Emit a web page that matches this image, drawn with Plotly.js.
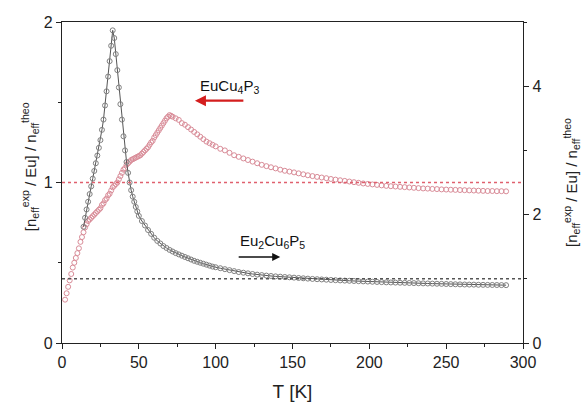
<!DOCTYPE html>
<html><head><meta charset="utf-8">
<script src="https://cdn.plot.ly/plotly-3.0.1.min.js"></script>
<style>html,body{margin:0;padding:0;background:#fff}#chart{width:584px;height:403px}</style>
</head><body><div id="chart"></div>
<script>
// EuCu4P3 (left axis)
const redT = [2,3,4,5,6,7,8,9,10,11,12,13,14,15,16,17,18,19,20,21,22,23,24,25,26,27,28,29,30,31,32,33,34,35,36,37,38,39,40,41,42,43,44,45,46,47,48,49,50,51,52,53,54,55,56,57,58,59,60,61,62,63,64,65,66,67,68,69,70,71,72,74,76,78,80,82,84,86,88,90,92,94,96,98,100,103,106,109,112,115,118,121,124,127,130,133,136,139,142,145,148,151,154,157,160,163,166,169,172,175,178,181,184,187,190,193,196,199,202,205,208,211,214,217,220,223,226,229,232,235,238,241,244,247,250,253,256,259,262,265,268,271,274,277,280,283,286,289];
const redY = [0.27,0.31,0.35,0.39,0.43,0.47,0.50,0.53,0.56,0.59,0.63,0.66,0.69,0.72,0.74,0.76,0.77,0.78,0.79,0.80,0.81,0.82,0.83,0.84,0.86,0.87,0.89,0.90,0.92,0.93,0.95,0.97,0.98,0.99,1.00,1.02,1.04,1.06,1.08,1.09,1.11,1.12,1.13,1.14,1.145,1.15,1.155,1.16,1.165,1.17,1.18,1.19,1.20,1.21,1.22,1.235,1.25,1.26,1.28,1.295,1.31,1.325,1.34,1.355,1.37,1.385,1.40,1.41,1.42,1.415,1.41,1.40,1.39,1.37,1.36,1.345,1.33,1.315,1.30,1.285,1.27,1.255,1.245,1.235,1.225,1.21,1.20,1.185,1.17,1.16,1.15,1.14,1.13,1.12,1.11,1.102,1.095,1.088,1.08,1.073,1.068,1.063,1.057,1.051,1.045,1.04,1.035,1.031,1.027,1.022,1.018,1.014,1.01,1.006,1.002,0.998,0.994,0.991,0.988,0.985,0.982,0.979,0.977,0.975,0.973,0.971,0.969,0.967,0.965,0.963,0.962,0.96,0.959,0.957,0.956,0.955,0.954,0.953,0.952,0.951,0.95,0.949,0.948,0.947,0.947,0.946,0.946,0.945];
// Eu2Cu6P5 (right axis)
const blackT = [14,15,16,17,18,19,20,21,22,23,24,25,26,27,28,29,30,31,32,33,34,35,36,37,38,39,40,41,42,43,44,45,46,47,48,49,50,52,54,56,58,60,62,64,66,68,70,72,74,76,78,80,82,84,86,88,90,92,94,96,98,100,103,106,109,112,115,118,121,124,127,130,133,136,139,142,145,148,151,154,157,160,163,166,169,172,175,178,181,184,187,190,193,196,199,202,205,208,211,214,217,220,223,226,229,232,235,238,241,244,247,250,253,256,259,262,265,268,271,274,277,280,283,286,289];
const blackY = [1.81,1.95,2.08,2.20,2.32,2.44,2.56,2.68,2.80,2.92,3.04,3.16,3.32,3.48,3.70,3.92,4.15,4.39,4.63,4.87,4.75,4.50,4.25,3.98,3.72,3.48,3.22,3.00,2.82,2.65,2.50,2.38,2.28,2.20,2.12,2.05,1.98,1.90,1.83,1.76,1.70,1.64,1.59,1.55,1.51,1.48,1.45,1.425,1.40,1.38,1.36,1.34,1.32,1.30,1.28,1.265,1.25,1.235,1.22,1.205,1.19,1.18,1.165,1.15,1.135,1.12,1.105,1.095,1.085,1.075,1.065,1.058,1.05,1.044,1.038,1.033,1.028,1.023,1.018,1.013,1.008,1.003,0.998,0.994,0.99,0.986,0.982,0.978,0.975,0.972,0.969,0.966,0.963,0.96,0.957,0.954,0.951,0.948,0.945,0.943,0.941,0.939,0.937,0.935,0.933,0.931,0.929,0.927,0.925,0.923,0.921,0.919,0.917,0.915,0.913,0.911,0.91,0.909,0.907,0.906,0.905,0.904,0.903,0.902,0.901];
const redRef = 1;    // left axis reference
const blackRef = 1;  // right axis reference
const xTicks = [0,50,100,150,200,250,300];
const leftTicks = [0,1,2];
const rightTicks = [0,2,4];
const labelRed = 'EuCu<sub>4</sub>P<sub>3</sub>';
const labelBlack = 'Eu<sub>2</sub>Cu<sub>6</sub>P<sub>5</sub>';
const yTitle = '[n<sub>eff</sub><sup>exp</sup> / Eu] / n<sub>eff</sub><sup>theo</sup>';

const font = 'Liberation Sans, Arial, sans-serif';
const traces = [
  {x: redT, y: redY, type: 'scatter', mode: 'markers', yaxis: 'y',
   marker: {symbol: 'circle-open', size: 5, color: '#d98c98', line: {width: 1}}, hoverinfo: 'skip'},
  {x: blackT, y: blackY, type: 'scatter', mode: 'lines+markers', yaxis: 'y2',
   line: {color: '#555', width: 1},
   marker: {symbol: 'circle-open', size: 5, color: '#808080', line: {width: 1}}, hoverinfo: 'skip'}
];
const axisCommon = {showline: true, linecolor: '#222', linewidth: 1.2, ticks: 'outside', ticklen: 5,
  tickcolor: '#222', showgrid: false, zeroline: false, tickfont: {family: font, size: 16, color: '#222'}};
const layout = {
  width: 584, height: 403, margin: {l: 62, r: 61, t: 22, b: 60},
  paper_bgcolor: '#fff', plot_bgcolor: '#fff', showlegend: false,
  xaxis: Object.assign({}, axisCommon, {range: [0, 300], tickvals: xTicks, mirror: true,
    minor: {dtick: 25, ticks: 'outside', ticklen: 3, tickcolor: '#222'},
    title: {text: 'T [K]', font: {family: font, size: 19, color: '#222'}, standoff: 14}}),
  yaxis: Object.assign({}, axisCommon, {range: [0, 2], tickvals: leftTicks,
    minor: {dtick: 0.5, ticks: 'outside', ticklen: 3, tickcolor: '#222'}}),
  yaxis2: Object.assign({}, axisCommon, {range: [0, 5], tickvals: rightTicks, overlaying: 'y', side: 'right',
    minor: {dtick: 1, ticks: 'outside', ticklen: 3, tickcolor: '#222'}}),
  shapes: [
    {type: 'line', xref: 'paper', x0: 0, x1: 1, yref: 'y', y0: redRef, y1: redRef,
     line: {color: '#e0606e', width: 1.3, dash: 'dot'}},
    {type: 'line', xref: 'paper', x0: 0, x1: 1, yref: 'y2', y0: blackRef, y1: blackRef,
     line: {color: '#555', width: 1.5, dash: 'dot'}}
  ],
  annotations: [
    {xref: 'paper', yref: 'paper', x: -0.07, y: 0.55, text: yTitle, textangle: -90, showarrow: false,
     font: {family: font, size: 15, color: '#222'}, xanchor: 'center', yanchor: 'middle'},
    {xref: 'paper', yref: 'paper', x: 1.105, y: 0.5, text: yTitle, textangle: -90, showarrow: false,
     font: {family: font, size: 15, color: '#222'}, xanchor: 'center', yanchor: 'middle'},
    {x: 109, y: 1.6, xref: 'x', yref: 'y', text: labelRed, showarrow: false,
     font: {family: font, size: 15, color: '#111'}},
    {x: 86.5, y: 1.51, xref: 'x', yref: 'y', ax: 119, ay: 1.51, axref: 'x', ayref: 'y', text: '',
     showarrow: true, arrowhead: 2, arrowsize: 1, arrowwidth: 2.2, arrowcolor: '#d41e1e'},
    {x: 137, y: 1.58, xref: 'x', yref: 'y2', text: labelBlack, showarrow: false,
     font: {family: font, size: 15, color: '#111'}},
    {x: 142, y: 1.34, xref: 'x', yref: 'y2', ax: 114, ay: 1.34, axref: 'x', ayref: 'y2', text: '',
     showarrow: true, arrowhead: 2, arrowsize: 1, arrowwidth: 1.6, arrowcolor: '#111'}
  ]
};
Plotly.newPlot('chart', traces, layout, {staticPlot: true, displayModeBar: false});
</script></body></html>
